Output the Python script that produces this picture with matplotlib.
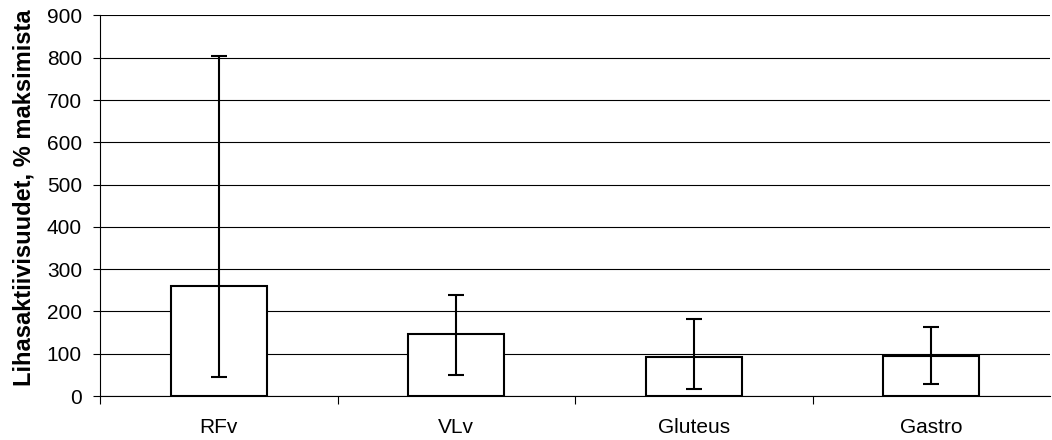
import matplotlib
matplotlib.use("Agg")
import matplotlib.pyplot as plt
import numpy as np

categories = ["RFv", "VLv", "Gluteus", "Gastro"]
means = [260, 146, 92, 94]
err_low = [46, 49, 16, 28]
err_high = [805, 239, 183, 164]
yticks = [0, 100, 200, 300, 400, 500, 600, 700, 800, 900]
ylabel = "Lihasaktiivisuudet, % maksimista"

plt.rcParams['font.family'] = ['Liberation Sans', 'DejaVu Sans']

fig = plt.figure(figsize=(10.52, 4.40), dpi=100)
ax = fig.add_axes([100/1052, 1 - 396/440, 950/1052, (396 - 15.5)/440])

x = np.arange(len(categories))
means_a = np.array(means)
yerr = np.vstack([means_a - np.array(err_low), np.array(err_high) - means_a])

ax.bar(x, means, width=0.405, color='white', edgecolor='black', linewidth=1.5, zorder=3)
ax.errorbar(x, means, yerr=yerr, fmt='none', ecolor='black', elinewidth=1.5,
            capsize=5.8, capthick=1.5, zorder=4)

ax.set_xlim(-0.5, 3.5)
ax.set_ylim(0, 900)
ax.set_yticks(yticks)
ax.set_yticklabels([str(v) for v in yticks], fontsize=15)
ax.yaxis.grid(True, color='black', linewidth=0.8, zorder=0)
ax.set_axisbelow(True)

ax.set_xticks(x)
ax.set_xticklabels(categories, fontsize=15)
ax.tick_params(axis='x', length=0, pad=15.5)
ax.set_xticks([0.5, 1.5, 2.5, -0.5], minor=True)
ax.tick_params(axis='x', which='minor', length=6, width=0.8, direction='out')
ax.tick_params(axis='y', length=5, width=0.8, direction='out', pad=8)

for s in ['top', 'right']:
    ax.spines[s].set_visible(False)
ax.spines['left'].set_linewidth(0.8)
ax.spines['bottom'].set_linewidth(0.8)

ax.set_ylabel(ylabel, fontsize=17, fontweight='bold', labelpad=8)
ax.yaxis.label.set_y(0.522)

fig.savefig("out.png", dpi=100)
